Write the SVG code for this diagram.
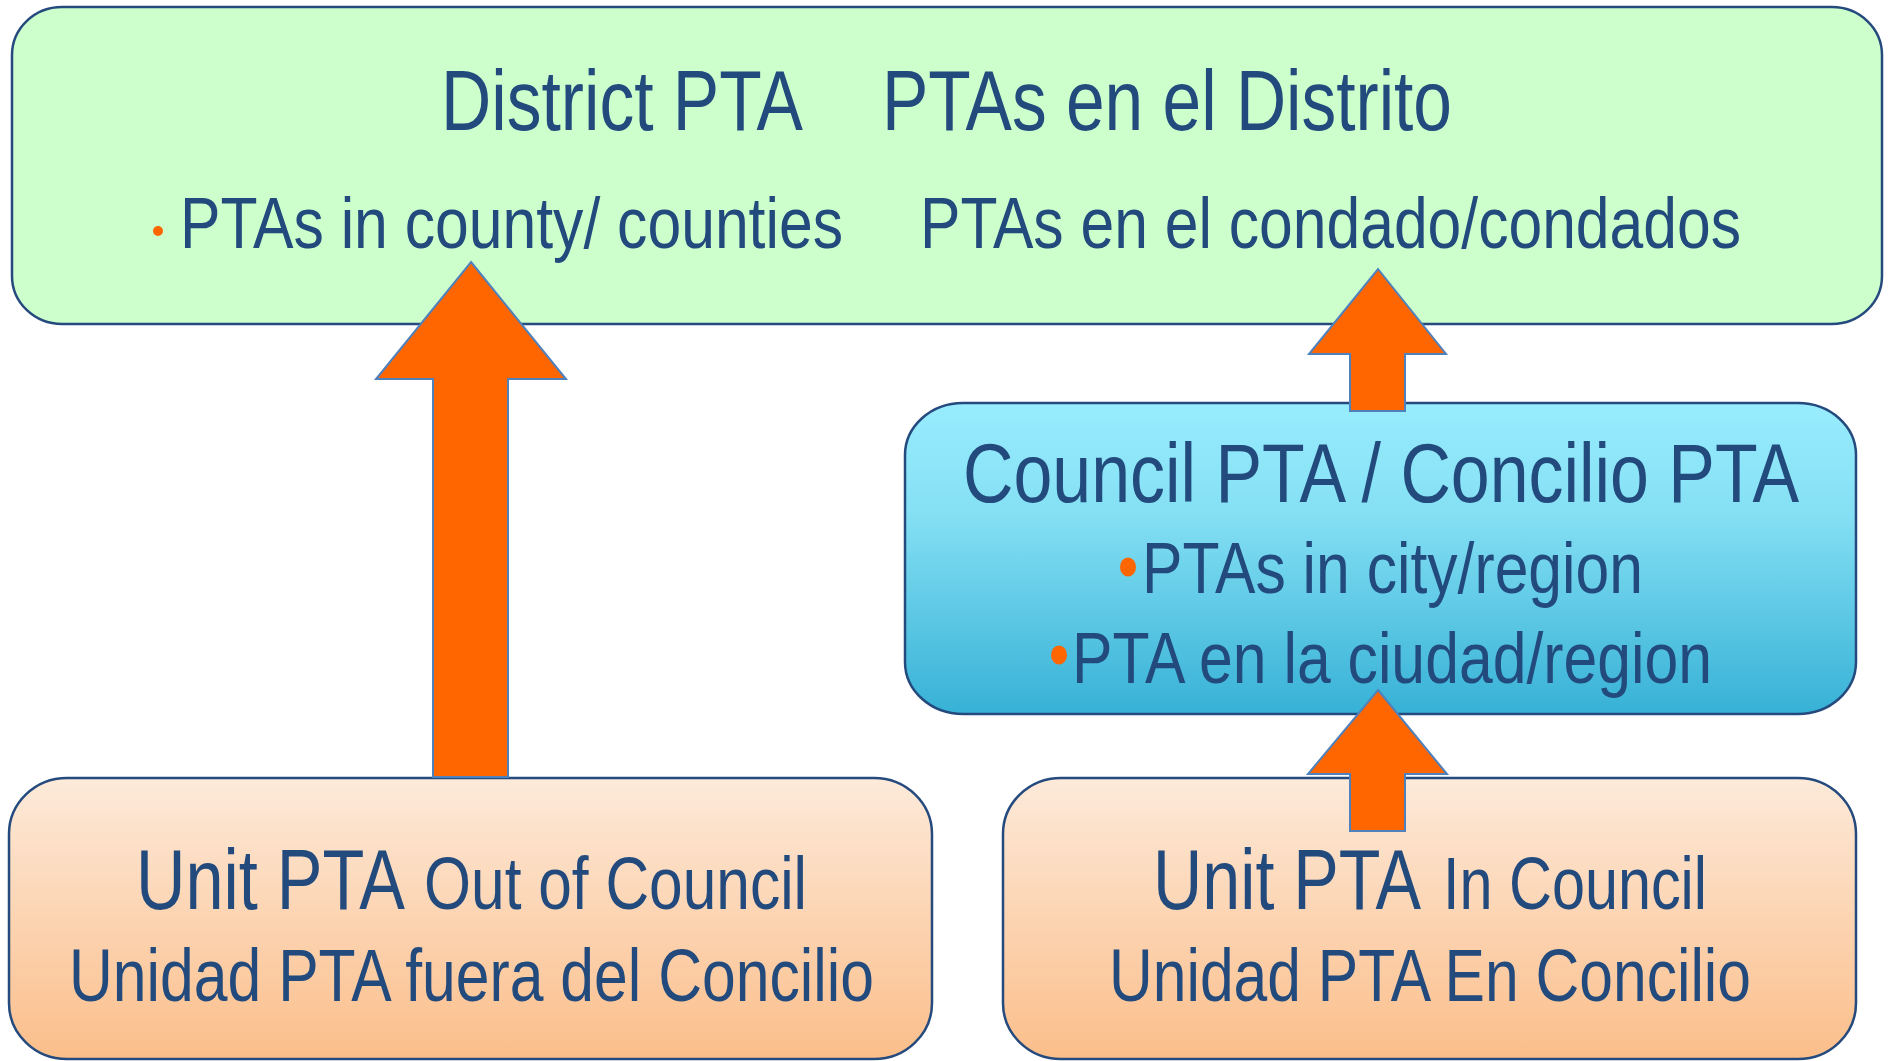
<svg xmlns="http://www.w3.org/2000/svg" width="1889" height="1061" viewBox="0 0 1889 1061">
<defs>
<linearGradient id="gBlue" x1="0" y1="0" x2="0" y2="1">
<stop offset="0" stop-color="#98ECFD"/>
<stop offset="0.35" stop-color="#85E0F4"/>
<stop offset="1" stop-color="#37B1D6"/>
</linearGradient>
<linearGradient id="gPeach" x1="0" y1="0" x2="0" y2="1">
<stop offset="0" stop-color="#FDEADA"/>
<stop offset="1" stop-color="#FBBE8A"/>
</linearGradient>
<style>
.box{stroke:#254A7D;stroke-width:2.5}
.t{font-family:"Liberation Sans Narrow","Liberation Sans",Arial,sans-serif;fill:#234A7C}
.bul{fill:#FF6600}
.arrow{fill:#FF6600;stroke:#4F81BD;stroke-width:2;stroke-linejoin:miter}
</style>
</defs>
<rect width="1889" height="1061" fill="#FFFFFF"/>

<g id="district">
<rect class="box" x="12" y="7" width="1870" height="317" rx="50" ry="48" fill="#CCFFCC"/>
<text class="t" font-size="85" y="130" x="441" textLength="362" lengthAdjust="spacingAndGlyphs">District PTA</text>
<text class="t" font-size="85" y="130" x="882" textLength="570" lengthAdjust="spacingAndGlyphs">PTAs en el Distrito</text>
<circle class="bul" cx="158" cy="231" r="5"/>
<text class="t" font-size="72" y="248" x="180" textLength="663" lengthAdjust="spacingAndGlyphs">PTAs in county/ counties</text>
<text class="t" font-size="72" y="248" x="920" textLength="821" lengthAdjust="spacingAndGlyphs">PTAs en el condado/condados</text>
</g>

<g id="council">
<rect class="box" x="905" y="403" width="951" height="311" rx="58" ry="52" fill="url(#gBlue)"/>
<text class="t" font-size="84" y="502" x="963" textLength="836" lengthAdjust="spacingAndGlyphs">Council PTA / Concilio PTA</text>
<ellipse class="bul" cx="1128" cy="567" rx="8" ry="9.5"/>
<text class="t" font-size="72" y="593" x="1142" textLength="501" lengthAdjust="spacingAndGlyphs">PTAs in city/region</text>
<ellipse class="bul" cx="1059" cy="655" rx="8" ry="9.5"/>
<text class="t" font-size="72" y="683" x="1072" textLength="640" lengthAdjust="spacingAndGlyphs">PTA en la ciudad/region</text>
</g>

<g id="unit-out">
<rect class="box" x="9" y="778" width="923" height="281" rx="58" ry="56" fill="url(#gPeach)"/>
<text class="t" font-size="85" y="909" x="136" textLength="269" lengthAdjust="spacingAndGlyphs">Unit PTA</text>
<text class="t" font-size="74" y="909" x="424" textLength="383" lengthAdjust="spacingAndGlyphs">Out of Council</text>
<text class="t" font-size="75" y="1001" x="69" textLength="805" lengthAdjust="spacingAndGlyphs">Unidad PTA fuera del Concilio</text>
</g>

<g id="unit-in">
<rect class="box" x="1003" y="778" width="853" height="281" rx="58" ry="56" fill="url(#gPeach)"/>
<text class="t" font-size="85" y="909" x="1153" textLength="268" lengthAdjust="spacingAndGlyphs">Unit PTA</text>
<text class="t" font-size="74" y="909" x="1443" textLength="264" lengthAdjust="spacingAndGlyphs">In Council</text>
<text class="t" font-size="75" y="1001" x="1109" textLength="642" lengthAdjust="spacingAndGlyphs">Unidad PTA En Concilio</text>
</g>

<g id="connectors">
<polygon class="arrow" points="471,262 566,379 508,379 508,777 433,777 433,379 376,379"/>
<polygon class="arrow" points="1378,269 1446,354 1405,354 1405,411 1350,411 1350,354 1309,354"/>
<polygon class="arrow" points="1378,690 1447,774 1405,774 1405,831 1350,831 1350,774 1308,774"/>
</g>
</svg>
